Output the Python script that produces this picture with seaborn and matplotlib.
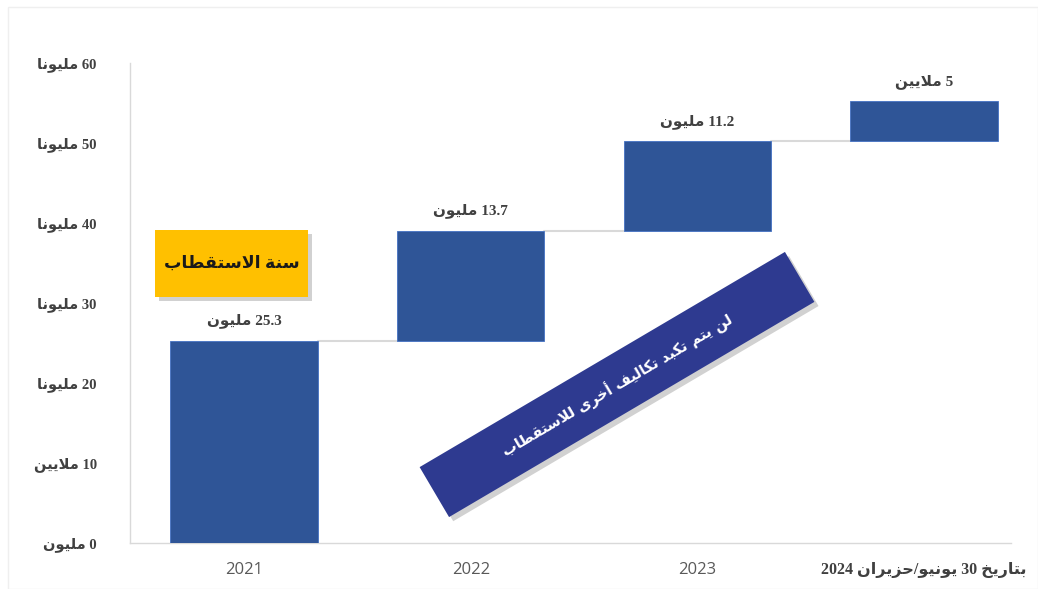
import seaborn as sns
import pandas as pd
import matplotlib.pyplot as plt
from matplotlib.patches import Rectangle
from matplotlib.transforms import IdentityTransform
import matplotlib.patheffects as pe

# waterfall data (millions)
years = ["2021", "2022", "2023", "بتاريخ 30 يونيو/حزيران 2024"]
increments = [25.3, 13.7, 11.2, 5]
bar_labels = ["25.3 مليون", "13.7 مليون", "11.2 مليون", "5 ملايين"]
y_ticks = [0, 10, 20, 30, 40, 50, 60]
y_tick_labels = ["0 مليون", "10 ملايين", "20 مليونا", "30 مليونا",
                 "40 مليونا", "50 مليونا", "60 مليونا"]
box_text = "سنة الاستقطاب"
banner_text = "لن يتم تكبد تكاليف أخرى للاستقطاب"

# --- minimal arabic shaping + visual ordering (matplotlib has no bidi) ---
FORMS = {  # isolated, final, initial, medial
    "ا": (0xFE8D, 0xFE8E, None, None), "أ": (0xFE83, 0xFE84, None, None),
    "ب": (0xFE8F, 0xFE90, 0xFE91, 0xFE92), "ة": (0xFE93, 0xFE94, None, None),
    "ت": (0xFE95, 0xFE96, 0xFE97, 0xFE98), "ح": (0xFEA1, 0xFEA2, 0xFEA3, 0xFEA4),
    "خ": (0xFEA5, 0xFEA6, 0xFEA7, 0xFEA8), "د": (0xFEA9, 0xFEAA, None, None),
    "ر": (0xFEAD, 0xFEAE, None, None), "ز": (0xFEAF, 0xFEB0, None, None),
    "س": (0xFEB1, 0xFEB2, 0xFEB3, 0xFEB4), "ط": (0xFEC1, 0xFEC2, 0xFEC3, 0xFEC4),
    "ف": (0xFED1, 0xFED2, 0xFED3, 0xFED4), "ق": (0xFED5, 0xFED6, 0xFED7, 0xFED8),
    "ك": (0xFED9, 0xFEDA, 0xFEDB, 0xFEDC), "ل": (0xFEDD, 0xFEDE, 0xFEDF, 0xFEE0),
    "م": (0xFEE1, 0xFEE2, 0xFEE3, 0xFEE4), "ن": (0xFEE5, 0xFEE6, 0xFEE7, 0xFEE8),
    "و": (0xFEED, 0xFEEE, None, None), "ى": (0xFEEF, 0xFEF0, None, None),
    "ي": (0xFEF1, 0xFEF2, 0xFEF3, 0xFEF4),
}
LAM_ALEF = {"ا": (0xFEFB, 0xFEFC), "أ": (0xFEF7, 0xFEF8)}


def joins_next(c):
    return c in FORMS and FORMS[c][2] is not None


def shape(s):
    out = []
    i = 0
    while i < len(s):
        c = s[i]
        if c not in FORMS:
            out.append(c)
            i += 1
            continue
        prev = s[i - 1] if i > 0 else ""
        p = joins_next(prev)
        if c == "ل" and i + 1 < len(s) and s[i + 1] in LAM_ALEF:
            iso, fin = LAM_ALEF[s[i + 1]]
            out.append(chr(fin if p else iso))
            i += 2
            continue
        nxt = s[i + 1] if i + 1 < len(s) else ""
        n = joins_next(c) and nxt in FORMS
        iso, fin, ini, med = FORMS[c]
        if p and n:
            out.append(chr(med))
        elif p:
            out.append(chr(fin))
        elif n:
            out.append(chr(ini))
        else:
            out.append(chr(iso))
        i += 1
    return "".join(out)


def ar(s):
    shaped = shape(s)
    words = []
    for w in shaped.split(" "):
        if any(ord(ch) >= 0xFE70 for ch in w):
            w = w[::-1]
        words.append(w)
    return " ".join(words[::-1])


sns.set_theme(style="white")
plt.rcParams["font.family"] = ["Liberation Serif", "DejaVu Sans"]

bases = [sum(increments[:i]) for i in range(len(increments))]
totals = [b + v for b, v in zip(bases, increments)]
df = pd.DataFrame({"pos": range(len(years)), "inc": increments, "base": bases})

fig = plt.figure(figsize=(10.38, 5.89), dpi=100)
ax = fig.add_axes([130 / 1038, 46 / 589, 881 / 1038, 480 / 589])

bar_color = "#2F5597"
w = 0.65
ax.bar(df["pos"], df["inc"], bottom=df["base"], width=w, color=bar_color,
       edgecolor="#4472C4", linewidth=0.6, zorder=3)

# connectors
for i in range(len(totals) - 1):
    ax.plot([i + w / 2, i + 1 - w / 2], [totals[i], totals[i]],
            color="#d9d9d9", lw=1.5, zorder=2)

for i, (t, lab) in enumerate(zip(totals, bar_labels)):
    ax.text(i, t + 1.6, ar(lab), ha="center", va="bottom", fontsize=11,
            fontweight="bold", color="#404040")

ax.set_xlim(-0.503, 3.383)
ax.set_ylim(0, 60)
ax.set_yticks(y_ticks)
ax.set_yticklabels([ar(t) for t in y_tick_labels], fontsize=10.5,
                   fontweight="bold", color="#404040")
ax.tick_params(axis="y", length=0, pad=24)
ax.set_xticks(df["pos"])
ax.set_xticklabels([ar(y) for y in years])
ax.tick_params(axis="x", length=0, pad=14)
for k, lab in enumerate(ax.get_xticklabels()):
    if k < 3:
        lab.set_family(["Open Sans", "DejaVu Sans"])
        lab.set_fontsize(12)
        lab.set_color("#595959")
    else:
        lab.set_fontsize(11.5)
        lab.set_fontweight("bold")
        lab.set_color("#404040")

for s in ["top", "right"]:
    ax.spines[s].set_visible(False)
ax.spines["left"].set_color("#d9d9d9")
ax.spines["bottom"].set_color("#d9d9d9")
ax.spines["left"].set_linewidth(1)
ax.spines["bottom"].set_linewidth(1)

# faint outer frame
fig.patches.append(Rectangle((8, 0), 1030, 582, transform=IdentityTransform(),
                             fill=False, edgecolor="#efefef", lw=1))

# yellow box
shadow = [pe.withSimplePatchShadow(offset=(3, -3), shadow_rgbFace="#000000", alpha=0.18)]
yb = Rectangle((155, 292), 153, 67, transform=IdentityTransform(),
               facecolor="#FFC000", edgecolor="none", zorder=5, path_effects=shadow)
fig.patches.append(yb)
fig.text(231.5 / 1038, 325.5 / 589, ar(box_text), ha="center", va="center",
         fontsize=12.5, fontweight="bold", color="#1a1a1a", zorder=6)

# rotated banner
cx, cy, bw, bh, ang = 617, 204.5, 424, 58, 30.5
banner = Rectangle((cx - bw / 2, cy - bh / 2), bw, bh, angle=ang,
                   rotation_point="center", transform=IdentityTransform(),
                   facecolor="#2E3A90", edgecolor="none", zorder=5,
                   path_effects=shadow)
fig.patches.append(banner)
fig.text(cx / 1038, cy / 589, ar(banner_text), ha="center", va="center",
         rotation=ang, rotation_mode="anchor", fontsize=10.5, fontweight="bold",
         color="white", family=["DejaVu Sans"], zorder=6)

fig.savefig("out.png", dpi=100)
